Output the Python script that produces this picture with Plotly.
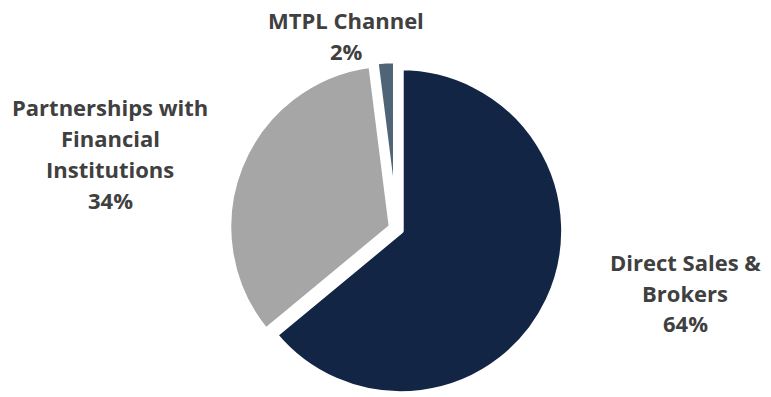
import plotly.graph_objects as go

# ---- data ----
labels = ["Direct Sales & Brokers", "Partnerships with Financial Institutions", "MTPL Channel"]
values = [64, 34, 2]
label_lines = [["Direct Sales &", "Brokers"],
               ["Partnerships with", "Financial", "Institutions"],
               ["MTPL Channel"]]
colors = ["#132544", "#A6A6A6", "#4F6577"]
pulls = [0.03, 0.03, 0.03]

W, H = 771, 397
FS = 22

fig = go.Figure()
fig.add_trace(go.Pie(
    labels=labels,
    values=values,
    sort=False,
    direction="clockwise",
    rotation=0,
    pull=pulls,
    marker=dict(colors=colors, line=dict(color="white", width=6)),
    textinfo="none",
    hoverinfo="skip",
    showlegend=False,
    domain=dict(x=[0.202, 0.826], y=[0.0, 0.848]),
))

# label block positions (pixel centre x, first-line baseline y, line pitch)
label_pos = [(685, 271, 30.5), (110, 116, 30.7), (346, 29, 31)]

annotations = []
for lines, v, (cx, by, pitch) in zip(label_lines, values, label_pos):
    all_lines = lines + [f"{v}%"]
    for i, t in enumerate(all_lines):
        ypx = by + i * pitch - 0.388 * FS
        annotations.append(dict(
            text=t, x=cx / W, y=1 - ypx / H, xref="paper", yref="paper",
            xanchor="center", yanchor="middle", showarrow=False,
            font=dict(family="Open Sans", size=FS, color="#404040", weight="bold"),
        ))

fig.update_layout(
    width=W, height=H,
    margin=dict(l=0, r=0, t=0, b=0),
    paper_bgcolor="white", plot_bgcolor="white",
    annotations=annotations,
)

fig.write_html("out.html", config={"displayModeBar": False},
               post_script="document.body.style.margin='0';")
